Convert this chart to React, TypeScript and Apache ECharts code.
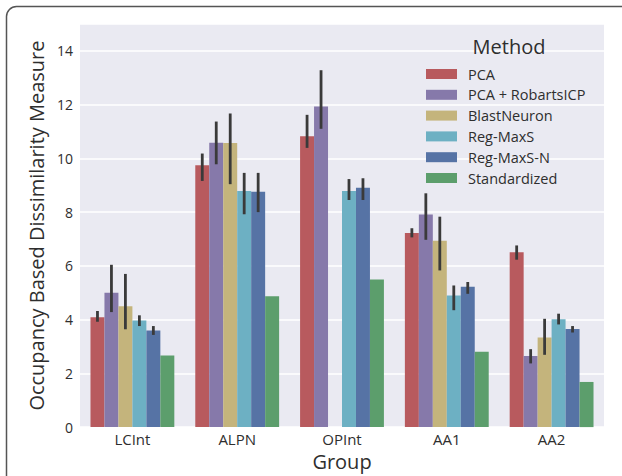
import React, { useEffect, useRef } from "react";
import * as echarts from "echarts";

const categories = ["LCInt", "ALPN", "OPInt", "AA1", "AA2"];
const methods = ["PCA", "PCA + RobartsICP", "BlastNeuron", "Reg-MaxS", "Reg-MaxS-N", "Standardized"];
const colors = ["#B85A5E", "#8679AA", "#C4B47C", "#6DB0C3", "#5673A5", "#5C9E6C"];

const pcaValues = [4.09, 9.74, 10.82, 7.22, 6.51];
const pcaRobartsValues = [5.0, 10.58, 11.93, 7.91, 2.65];
const blastNeuronValues = [4.5, 10.57, null, 6.93, 3.33];
const regMaxSValues = [3.97, 8.79, 8.79, 4.9, 4.01];
const regMaxSNValues = [3.59, 8.76, 8.91, 5.22, 3.65];
const standardizedValues = [2.66, 4.87, 5.49, 2.8, 1.68];

// [low, high] confidence intervals
const pcaErr = [[3.92, 4.32], [9.16, 10.18], [10.39, 11.62], [7.06, 7.4], [6.23, 6.76]];
const pcaRobartsErr = [[4.28, 6.04], [9.78, 11.37], [11.1, 13.28], [6.97, 8.7], [2.37, 2.9]];
const blastNeuronErr = [[3.64, 5.7], [9.04, 11.67], null, [5.83, 7.83], [2.69, 4.03]];
const regMaxSErr = [[3.76, 4.16], [7.92, 9.46], [8.45, 9.23], [4.35, 5.27], [3.82, 4.22]];
const regMaxSNErr = [[3.43, 3.76], [8.0, 9.46], [8.45, 9.26], [4.96, 5.4], [3.52, 3.76]];

const allValues = [pcaValues, pcaRobartsValues, blastNeuronValues, regMaxSValues, regMaxSNValues, standardizedValues];
const allErrs = [pcaErr, pcaRobartsErr, blastNeuronErr, regMaxSErr, regMaxSNErr];

const FONT = "Open Sans";
const TXT = "#2e2e2e";

export default function App() {
  const ref = useRef<HTMLDivElement>(null);
  useEffect(() => {
    if (!ref.current) return;
    const chart = echarts.init(ref.current, null, { renderer: "svg" });

    const errData: any[] = [];
    allErrs.forEach((errs, s) => {
      errs.forEach((e, c) => {
        if (e) errData.push([c, e[0], e[1], s]);
      });
    });

    const barSeries = methods.map((m, i) => ({
      name: m,
      type: "bar",
      data: allValues[i],
      barGap: "0%",
      barCategoryGap: "20%",
      itemStyle: { color: colors[i] },
      emphasis: { disabled: true },
    }));

    chart.setOption({
      animation: false,
      backgroundColor: "#ffffff",
      textStyle: { fontFamily: FONT },
      graphic: [
        {
          type: "rect",
          shape: { x: 6.5, y: 6.5, width: 700, height: 600, r: 10 },
          style: { fill: "none", stroke: "#555555", lineWidth: 1.5 },
          silent: true,
          z: 100,
        },
      ],
      title: {
        text: "Method",
        left: 504,
        top: 31,
        textAlign: "center",
        textStyle: { fontFamily: FONT, fontSize: 20, fontWeight: "normal", color: TXT },
      },
      legend: {
        orient: "vertical",
        left: 421,
        top: 61.5,
        itemWidth: 31,
        itemHeight: 10,
        itemGap: 5.8,
        data: methods,
        icon: "rect",
        textStyle: { fontFamily: FONT, fontSize: 14.5, color: TXT, padding: [0, 0, 0, 6] },
      },
      grid: { left: 80, right: 18, top: 24, bottom: 46, backgroundColor: "#EAEAF2", show: true, borderWidth: 0 },
      xAxis: {
        type: "category",
        data: categories,
        axisLine: { show: false },
        axisTick: { show: false },
        axisLabel: { fontFamily: FONT, fontSize: 15, color: TXT, margin: 4 },
        name: "Group",
        nameLocation: "middle",
        nameGap: 21,
        nameTextStyle: { fontFamily: FONT, fontSize: 20, color: TXT },
      },
      yAxis: {
        type: "value",
        min: 0,
        max: 15,
        interval: 2,
        axisLine: { show: false },
        axisTick: { show: false },
        axisLabel: {
          fontFamily: FONT,
          fontSize: 14,
          color: TXT,
          margin: 7,
          formatter: (v: number) => (v % 2 === 0 ? String(v) : ""),
        },
        splitLine: { lineStyle: { color: "#ffffff", width: 1.5 } },
        name: "Occupancy Based Dissimilarity Measure",
        nameLocation: "middle",
        nameGap: 29,
        nameTextStyle: { fontFamily: FONT, fontSize: 20, color: TXT },
      },
      series: [
        ...barSeries,
        {
          type: "custom",
          name: "err",
          data: errData,
          z: 10,
          silent: true,
          encode: { x: 0, y: [1, 2] },
          renderItem: (params: any, api: any) => {
            const c = api.value(0);
            const lo = api.value(1);
            const hi = api.value(2);
            const s = api.value(3);
            const center = api.coord([c, 0])[0];
            const band = api.size([1, 0])[0];
            const bw = (band * 0.8) / 6;
            const x = center - 0.4 * band + (s + 0.5) * bw;
            const y1 = api.coord([c, lo])[1];
            const y2 = api.coord([c, hi])[1];
            return {
              type: "line",
              shape: { x1: x, y1, x2: x, y2 },
              style: { stroke: "#3a3a3a", lineWidth: 2.8 },
            };
          },
        },
      ],
    });
    return () => chart.dispose();
  }, []);
  return (
    <div
      ref={ref}
      style={{ position: "absolute", left: 0, top: 0, width: 622, height: 476 }}
    />
  );
}
